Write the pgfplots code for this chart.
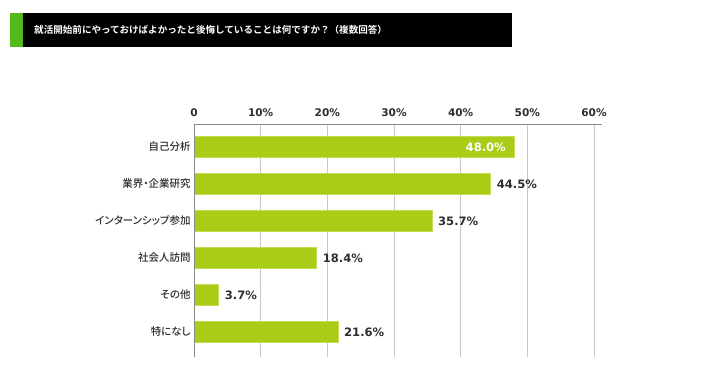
\documentclass[border=0pt]{standalone}
\usepackage{pgfplots}
\pgfplotsset{compat=1.18}
\usepackage{fontspec}
\setmainfont{Liberation Sans}
\newfontfamily\dvs{DejaVu Sans}
\newfontfamily\cjk{Noto Sans CJK JP}[BoldFont={Noto Sans CJK JP Bold}]
\newfontfamily\cjkp{Noto Sans CJK JP Medium}[RawFeature=+palt]
\definecolor{barfill}{HTML}{A9CD17}
\definecolor{baredge}{HTML}{C2DE55}
\definecolor{titlegreen}{HTML}{52B91A}
\definecolor{txt}{HTML}{2E2E2E}
\definecolor{gridc}{HTML}{C8C8C8}
\definecolor{axc}{HTML}{8A8A8A}
\begin{document}
\begin{tikzpicture}
\useasboundingbox (0bp,0bp) rectangle (728bp,387bp);
% title bar
\fill[titlegreen] (10bp,374bp) rectangle (23bp,340bp);
\fill[black] (23bp,374bp) rectangle (512bp,340bp);
\node[anchor=west,text=white,inner sep=0,font=\cjk\bfseries\fontsize{9.6}{12}\selectfont] at (34bp,357bp) {就活開始前にやっておけばよかったと後悔していることは何ですか？（複数回答）};
\begin{axis}[
  at={(194bp,30bp)}, anchor=south west,
  scale only axis, width=408bp, height=233bp,
  xmin=0, xmax=61.2, ymin=-0.68, ymax=5.62,
  /pgf/number format/assume math mode=true,
  axis line style={draw=none},
  xtick={0,10,20,30,40,50,60},
  xticklabels={0,10\%,20\%,30\%,40\%,50\%,60\%},
  xticklabel pos=upper,
  x tick label style={font=\dvs\bfseries\fontsize{10.6}{12}\selectfont, text=txt, anchor=base, inner sep=0, yshift=7.3bp},
  ytick={0,1,2,3,4,5},
  yticklabels={特になし,その他,社会人訪問,インターンシップ参加,業界・企業研究,自己分析},
  y tick label style={font=\cjkp\fontsize{10.5}{12}\selectfont, text=txt},
  major tick length=0pt,
  xmajorgrids, ymajorgrids=false,
  grid style={gridc, line width=0.8bp},
  clip=false,
]
\addplot[xbar, bar width=21bp, fill=barfill, draw=baredge, line width=0.6bp] coordinates {
  (48.0,5) (44.5,4) (35.7,3) (18.4,2) (3.7,1) (21.6,0)
};
\addplot[draw=none, mark=none, nodes near coords={\pgfmathprintnumber[fixed,fixed zerofill,precision=1]{\pgfplotspointmeta}\%},
  point meta=x, nodes near coords style={anchor=west, inner sep=0, xshift=6bp, text=txt, font=\dvs\bfseries\fontsize{11.6}{13}\selectfont}]
  coordinates {(44.5,4) (35.7,3) (18.4,2) (3.7,1) (21.6,0)};
\addplot[draw=none, mark=none, nodes near coords={\pgfmathprintnumber[fixed,fixed zerofill,precision=1]{\pgfplotspointmeta}\%},
  point meta=x, nodes near coords style={anchor=east, inner sep=0, xshift=-8bp, text=white, font=\dvs\bfseries\fontsize{11.6}{13}\selectfont}]
  coordinates {(48.0,5)};
\draw[axc, line width=0.9bp] (axis cs:0,5.62) -- (axis cs:61.2,5.62);
\draw[axc, line width=0.9bp] (axis cs:0,5.62) -- (axis cs:0,-0.68);
\end{axis}
\end{tikzpicture}
\end{document}
